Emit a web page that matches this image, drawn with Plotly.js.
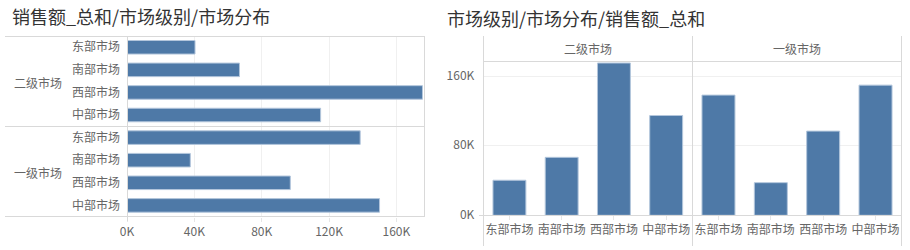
<!DOCTYPE html>
<html>
<head>
<meta charset="utf-8">
<script src="https://cdn.plot.ly/plotly-3.0.1.min.js"></script>
<style>html,body{margin:0;padding:0;background:#fff;}#chart{width:910px;height:250px;}</style>
</head>
<body>
<div id="chart"></div>
<script>
// ---- data ----
const markets = ['东部市场', '南部市场', '西部市场', '中部市场'];
const levels = ['二级市场', '一级市场'];
const salesLevel2 = [40400, 66800, 175500, 115000];   // 二级市场
const salesLevel1 = [138500, 37600, 97000, 150000];   // 一级市场
const hTickVals = [0, 40000, 80000, 120000, 160000];
const hTickText = ['0K', '40K', '80K', '120K', '160K'];
const vTickVals = [0, 80000, 160000];
const vTickText = ['0K', '80K', '160K'];
const chartTitles = ['销售额_总和/市场级别/市场分布', '市场级别/市场分布/销售额_总和'];

// ---- layout helpers ----
const W = 910, H = 250;
const px = v => v / W;
const py = v => 1 - v / H;
const FONT = '"Noto Sans CJK SC", "Noto Sans", sans-serif';
const BAR = '#4e79a7';
const BAR_EDGE = '#b3c6dc';
const LINE = '#d9d9d9';
const GRID = '#f0f0f0';
const valMax = 177000;

const traces = [
  {type: 'bar', orientation: 'h', y: markets, x: salesLevel2, xaxis: 'x', yaxis: 'y',
   width: 0.6, marker: {color: BAR, line: {color: BAR_EDGE, width: 1}}, hoverinfo: 'x+y'},
  {type: 'bar', orientation: 'h', y: markets, x: salesLevel1, xaxis: 'x', yaxis: 'y2',
   width: 0.6, marker: {color: BAR, line: {color: BAR_EDGE, width: 1}}, hoverinfo: 'x+y'},
  {type: 'bar', x: markets, y: salesLevel2, xaxis: 'x2', yaxis: 'y3',
   width: 0.63, marker: {color: BAR, line: {color: BAR_EDGE, width: 1}}, hoverinfo: 'x+y'},
  {type: 'bar', x: markets, y: salesLevel1, xaxis: 'x3', yaxis: 'y3',
   width: 0.63, marker: {color: BAR, line: {color: BAR_EDGE, width: 1}}, hoverinfo: 'x+y'}
];

const tickFont = {family: FONT, size: 12, color: '#666'};

function line(x0, y0, x1, y1) {
  return {type: 'line', xref: 'paper', yref: 'paper', x0: px(x0), y0: py(y0), x1: px(x1), y1: py(y1),
          line: {color: LINE, width: 1}, layer: 'above'};
}

const layout = {
  width: W, height: H, autosize: false,
  margin: {l: 0, r: 0, t: 0, b: 0, pad: 0},
  paper_bgcolor: '#fff', plot_bgcolor: 'rgba(0,0,0,0)',
  showlegend: false,
  font: {family: FONT, size: 12, color: '#666'},
  title: {text: chartTitles[0], x: px(12), xanchor: 'left', xref: 'paper',
          y: py(17.5), yanchor: 'middle', yref: 'paper',
          font: {family: FONT, size: 18, color: '#333'}},
  // left chart: horizontal bars
  xaxis: {domain: [px(127), px(425)], anchor: 'y2', range: [0, valMax], fixedrange: true,
          tickvals: hTickVals, ticktext: hTickText, tickfont: tickFont,
          showgrid: true, gridcolor: GRID, zeroline: false, showline: false,
          ticks: 'outside', ticklen: 4, tickcolor: '#e6e6e6', ticklabelstandoff: 0},
  yaxis: {domain: [py(126.3), py(36)], anchor: 'x', type: 'category', categoryarray: markets,
          range: [3.5, -0.5], tickfont: tickFont, showgrid: false, zeroline: false, showline: false,
          ticks: '', ticklabelstandoff: 6, fixedrange: true},
  yaxis2: {domain: [py(216.7), py(126.3)], anchor: 'x', type: 'category', categoryarray: markets,
           range: [3.5, -0.5], tickfont: tickFont, showgrid: false, zeroline: false, showline: false,
           ticks: '', ticklabelstandoff: 6, fixedrange: true},
  // right chart: vertical bars, two panels
  xaxis2: {domain: [px(483.3), px(692.3)], anchor: 'y3', type: 'category', categoryarray: markets,
           range: [-0.5, 3.5], tickfont: tickFont, showgrid: false, zeroline: false, showline: false,
           ticks: 'outside', ticklen: 4, tickcolor: '#e6e6e6', ticklabelstandoff: -1, fixedrange: true},
  xaxis3: {domain: [px(692.3), px(901.7)], anchor: 'y3', type: 'category', categoryarray: markets,
           range: [-0.5, 3.5], tickfont: tickFont, showgrid: false, zeroline: false, showline: false,
           ticks: 'outside', ticklen: 4, tickcolor: '#e6e6e6', ticklabelstandoff: -1, fixedrange: true},
  yaxis3: {domain: [py(215.3), py(61.7)], anchor: 'x2', range: [0, valMax], fixedrange: true,
           tickvals: vTickVals, ticktext: vTickText, tickfont: tickFont,
           showgrid: true, gridcolor: GRID, zeroline: false, showline: false,
           ticks: '', ticklabelstandoff: 8, ticklabelshift: -1},
  annotations: [
    {text: chartTitles[1], xref: 'paper', yref: 'paper', x: px(445), y: py(17.5),
     xanchor: 'left', yanchor: 'middle', showarrow: false, font: {family: FONT, size: 18, color: '#333'}},
    {text: levels[0], xref: 'paper', yref: 'paper', x: px(12), y: py(82.5), xanchor: 'left', yanchor: 'middle',
     showarrow: false, font: tickFont},
    {text: levels[1], xref: 'paper', yref: 'paper', x: px(12), y: py(172), xanchor: 'left', yanchor: 'middle',
     showarrow: false, font: tickFont},
    {text: levels[0], xref: 'paper', yref: 'paper', x: px(587.8), y: py(49), xanchor: 'center', yanchor: 'middle',
     showarrow: false, font: tickFont},
    {text: levels[1], xref: 'paper', yref: 'paper', x: px(797), y: py(49), xanchor: 'center', yanchor: 'middle',
     showarrow: false, font: tickFont}
  ],
  shapes: [
    // left frame
    line(5, 36.5, 425, 36.5),
    line(5, 126.5, 425, 126.5),
    line(5, 216.5, 425, 216.5),
    line(127.5, 36, 127.5, 221),
    line(424.5, 36, 424.5, 217),
    // right frame
    line(483.5, 36, 483.5, 246),
    line(692.5, 36, 692.5, 246),
    line(901.5, 36, 901.5, 246),
    line(483, 61.5, 902, 61.5),
    line(479, 215.5, 902, 215.5)
  ]
};

Plotly.newPlot('chart', traces, layout, {displayModeBar: false, staticPlot: true});
</script>
</body>
</html>
